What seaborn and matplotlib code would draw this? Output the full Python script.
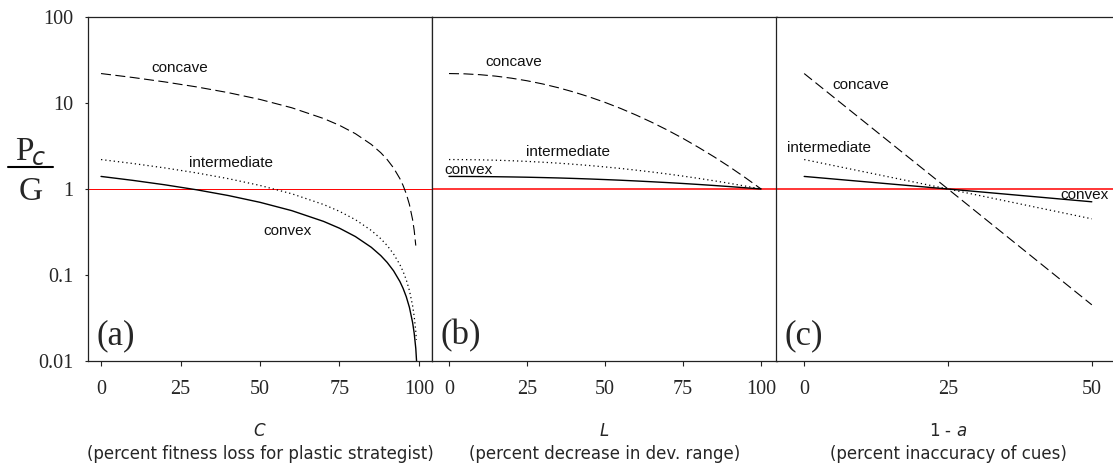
import numpy as np
import pandas as pd
import matplotlib
matplotlib.use("Agg")
import matplotlib.pyplot as plt
import seaborn as sns
from matplotlib.lines import Line2D
from matplotlib.ticker import FixedLocator, FixedFormatter, NullLocator
from matplotlib.transforms import blended_transform_factory

# ---------------- data ----------------
# panel (a): C, percent fitness loss for plastic strategist
a_x = [0, 10, 20, 30, 40, 50, 60, 70, 75, 80, 85, 88, 90, 92, 94, 95, 96, 97, 98, 98.5, 99]
a_concave = [22, 19.8, 17.6, 15.4, 13.2, 11.0, 8.8, 6.6, 5.5, 4.4, 3.3, 2.64, 2.2, 1.76,
             1.32, 1.1, 0.88, 0.66, 0.44, 0.33, 0.22]
a_x_inter = a_x + [99.2]
a_inter = [2.2, 1.98, 1.76, 1.54, 1.32, 1.1, 0.88, 0.66, 0.55, 0.44, 0.33, 0.264, 0.22, 0.176,
           0.132, 0.11, 0.088, 0.066, 0.044, 0.033, 0.022, 0.0176]
a_x_convex = a_x + [99.5]
a_convex = [1.4, 1.26, 1.12, 0.98, 0.84, 0.70, 0.56, 0.42, 0.35, 0.28, 0.21, 0.168, 0.14, 0.112,
            0.084, 0.07, 0.056, 0.042, 0.028, 0.021, 0.014, 0.007]

# panel (b): L, percent decrease in developmental range
b_x = [0, 5, 10, 15, 20, 25, 30, 35, 40, 45, 50, 55, 60, 65, 70, 75, 80, 85, 90, 95, 100]
b_concave = [22.0, 21.83, 21.33, 20.52, 19.44, 18.14, 16.66, 15.06, 13.41, 11.76, 10.16,
             8.64, 7.23, 5.96, 4.84, 3.87, 3.04, 2.36, 1.80, 1.35, 1.0]
b_inter = [2.2, 2.196, 2.183, 2.162, 2.132, 2.094, 2.049, 1.998, 1.939, 1.875, 1.806,
           1.733, 1.656, 1.577, 1.495, 1.412, 1.328, 1.245, 1.162, 1.080, 1.0]
b_convex = [1.4, 1.399, 1.395, 1.389, 1.381, 1.371, 1.358, 1.344, 1.327, 1.308, 1.287,
            1.265, 1.240, 1.214, 1.187, 1.159, 1.129, 1.098, 1.066, 1.033, 1.0]

# panel (c): 1 - a, percent inaccuracy of cues
c_x = [0, 25, 50]
c_concave = [22, 1, 0.045]
c_inter = [2.2, 1, 0.45]
c_convex = [1.4, 1, 0.71]

y_ticks = [0.01, 0.1, 1, 10, 100]
y_tick_labels = ["0.01", "0.1", "1", "10", "100"]
ab_xticks = [0, 25, 50, 75, 100]
c_xticks = [0, 25, 50]

# ---------------- style ----------------
sns.set_style("white")
plt.rcParams["font.family"] = ["Liberation Serif", "DejaVu Serif"]
plt.rcParams["mathtext.fontset"] = "dejavusans"

W, H = 1113, 470
fig = plt.figure(figsize=(W / 100, H / 100), dpi=100)

def px_ax(left, right, top=17, bottom=361):
    return fig.add_axes([left / W, (H - bottom) / H, (right - left) / W, (bottom - top) / H])

ax_a = px_ax(88, 432)
ax_b = px_ax(432, 777)
ax_c = px_ax(776, 1120)

DASH = (0, (9, 4))
DOT = (0, (1, 2.4))
SANS = ["DejaVu Sans"]
ARIAL = ["Liberation Sans", "DejaVu Sans"]

def draw(ax, x, y, style, lw):
    df = pd.DataFrame({"x": x, "y": y})
    sns.lineplot(data=df, x="x", y="y", ax=ax, color="black", errorbar=None,
                 estimator=None, sort=False, lw=lw)
    ax.lines[-1].set_linestyle(style)

def setup(ax, xlim, xticks, red_lw):
    ax.set_yscale("log")
    ax.set_ylim(0.01, 100)
    ax.set_xlim(*xlim)
    ax.axhline(1, color="#ff0000", lw=red_lw, zorder=1)
    ax.xaxis.set_major_locator(FixedLocator(xticks))
    ax.xaxis.set_major_formatter(FixedFormatter([str(t) for t in xticks]))
    ax.xaxis.set_minor_locator(NullLocator())
    ax.set_xlabel("")
    ax.set_ylabel("")
    for s in ax.spines.values():
        s.set_color("#222222")
        s.set_linewidth(0.9)
    ax.tick_params(axis="x", which="major", direction="out", length=3.5, width=0.8,
                   color="#222222", pad=10, labelsize=14.5, bottom=True)
    ax.tick_params(axis="y", which="both", left=False, labelleft=False)
    ax.yaxis.set_minor_locator(NullLocator())

# panel a
draw(ax_a, a_x, a_concave, DASH, 0.8)
draw(ax_a, a_x_inter, a_inter, DOT, 0.9)
draw(ax_a, a_x_convex, a_convex, "-", 1.0)
setup(ax_a, (-4.1, 104.1), ab_xticks, 0.7)
ax_a.yaxis.set_major_locator(FixedLocator(y_ticks))
ax_a.yaxis.set_major_formatter(FixedFormatter(y_tick_labels))
ax_a.tick_params(axis="y", which="major", left=True, labelleft=True, direction="out",
                 length=2.5, width=0.8, color="#222222", pad=8, labelsize=14.5)

# panel b
draw(ax_b, b_x, b_concave, DASH, 0.8)
draw(ax_b, b_x, b_inter, DOT, 0.9)
draw(ax_b, b_x, b_convex, "-", 1.0)
setup(ax_b, (-5.45, 105.1), ab_xticks, 1.1)

# panel c
draw(ax_c, c_x, c_concave, DASH, 0.8)
draw(ax_c, c_x, c_inter, DOT, 0.9)
draw(ax_c, c_x, c_convex, "-", 1.0)
setup(ax_c, (-4.9, 54.9), c_xticks, 1.1)

# curve labels
lab_kw = dict(family=ARIAL, fontsize=11, color="#111111", ha="center", va="center")
ax_a.text(24.8, 25.3, "concave", **lab_kw)
ax_a.text(40.8, 2.0, "intermediate", **lab_kw)
ax_a.text(58.7, 0.325, "convex", **lab_kw)
ax_b.text(20.9, 30, "concave", **lab_kw)
ax_b.text(38.2, 2.72, "intermediate", **lab_kw)
ax_b.text(6.2, 1.66, "convex", **lab_kw)
ax_c.text(9.9, 16.2, "concave", **lab_kw)
ax_c.text(4.35, 2.97, "intermediate", **lab_kw)
ax_c.text(44.6, 0.85, "convex", **{**lab_kw, "ha": "left"})

# panel letters
for ax, letter in [(ax_a, "(a)"), (ax_b, "(b)"), (ax_c, "(c)")]:
    ax.text(0.026, 0.073, letter, transform=ax.transAxes, fontsize=25,
            ha="left", va="center", family=["Liberation Serif"])

# x-axis titles
def xtitle(ax, xpos, trans_x, top, bottom):
    tr = blended_transform_factory(trans_x, fig.transFigure)
    ax.text(xpos, (H - 430.5) / H, top, transform=tr, ha="center", va="center",
            family=SANS, fontsize=12)
    ax.text(xpos, (H - 454) / H, bottom, transform=tr, ha="center", va="center",
            family=SANS, fontsize=12)

xtitle(ax_a, 0.5, ax_a.transAxes, r"$\mathit{C}$", "(percent fitness loss for plastic strategist)")
xtitle(ax_b, 0.5, ax_b.transAxes, r"$\mathit{L}$", "(percent decrease in dev. range)")
xtitle(ax_c, 25, ax_c.transData, r"1 - $\mathit{a}$", "(percent inaccuracy of cues)")

# Pc / G label
fig.text(15 / W, (H - 160) / H, "P", fontsize=24, family=["Liberation Serif"],
         ha="left", va="baseline")
fig.text(32 / W, (H - 165) / H, "c", fontsize=17, family=SANS, style="italic",
         ha="left", va="baseline")
fig.add_artist(Line2D([8 / W, 53 / W], [(H - 166.7) / H] * 2, color="black", lw=1.5))
fig.text(31 / W, (H - 200) / H, "G", fontsize=24, family=["Liberation Serif"],
         ha="center", va="baseline")

fig.savefig("out.png", dpi=100)
